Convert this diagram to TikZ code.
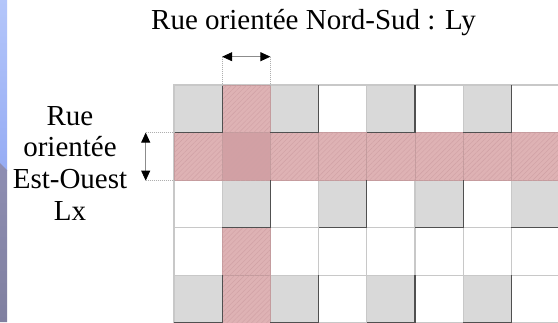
\documentclass[tikz,border=0pt]{standalone}
\usepackage{fontspec}
\setmainfont{Liberation Serif}
\usetikzlibrary{arrows.meta,patterns.meta}
\definecolor{cellgray}{RGB}{217,217,217}
\definecolor{gridline}{RGB}{200,200,200}
\definecolor{shadowline}{RGB}{80,80,80}
\definecolor{redcell}{RGB}{222,178,180}
\definecolor{redcross}{RGB}{210,160,164}
\definecolor{redhatch}{RGB}{208,160,164}
\definecolor{redborder}{RGB}{196,156,158}
\definecolor{stripA}{RGB}{180,198,250}
\definecolor{stripB}{RGB}{150,172,244}
\definecolor{stripC}{RGB}{142,142,178}
\definecolor{stripD}{RGB}{128,128,160}
\definecolor{dimline}{RGB}{140,140,140}
\definecolor{dimext}{RGB}{175,175,175}
\begin{document}
\begin{tikzpicture}[x=1pt,y=-1pt,
  lbl/.style={font=\fontsize{29}{32}\selectfont, inner sep=0pt},
  gridcell/.style={draw=gridline, line width=1.2pt},
  redbox/.style={fill=redcell, draw=redborder, line width=0.7pt},
  hatch/.style={pattern={Lines[angle=45,distance=3.5pt,line width=0.4pt]}, pattern color=redhatch},
  shadowedge/.style={draw=shadowline, line width=1.2pt},
  dimarrow/.style={draw=dimline, line width=0.8pt,
    {Triangle[length=10pt,width=9pt,color=black]}-{Triangle[length=10pt,width=9pt,color=black]}},
  dimextline/.style={draw=dimext, line width=0.6pt, dash pattern=on 1pt off 1pt}]
\useasboundingbox (0,0) rectangle (558,322);
\clip (0,0) rectangle (558,322);
\fill[white] (0,0) rectangle (558,322);
% left strip
\shade[top color=stripA, bottom color=stripB] (0,0) rectangle (7,170);
\shade[top color=stripC, bottom color=stripD] (0,163) -- (7,170) -- (7,322) -- (0,322) -- cycle;
\def\cw{48.2}\def\ch{47.6}\def\gx{174}\def\gy{85}
% gray cells
\foreach \r/\c in {0/0,0/2,0/4,0/6,2/1,2/3,2/5,2/7,4/0,4/2,4/4,4/6}
  \fill[cellgray] ({\gx+\c*\cw},{\gy+\r*\ch}) rectangle ++(\cw,\ch);
% light grid
\foreach \r in {0,...,4}
  \foreach \c in {0,...,7}
    \draw[gridcell] ({\gx+\c*\cw},{\gy+\r*\ch}) rectangle ++(\cw,\ch);
% red streets
\foreach \r/\c in {1/0,1/2,1/3,1/4,1/5,1/6,1/7,0/1,3/1,4/1}{
  \path[redbox] ({\gx+\c*\cw},{\gy+\r*\ch}) rectangle ++(\cw,\ch);
  \path[hatch] ({\gx+\c*\cw},{\gy+\r*\ch}) rectangle ++(\cw,\ch);
}
\path[redbox, fill=redcross] ({\gx+1*\cw},{\gy+1*\ch}) rectangle ++(\cw,\ch);
\path[hatch] ({\gx+1*\cw},{\gy+1*\ch}) rectangle ++(\cw,\ch);
% shadow edges of gray cells
\foreach \r/\c in {0/0,0/2,0/4,0/6,2/1,2/3,2/5,2/7,4/0,4/2,4/4,4/6}
  \draw[shadowedge] ({\gx+(\c+1)*\cw},{\gy+\r*\ch}) -- ({\gx+(\c+1)*\cw},{\gy+(\r+1)*\ch}) -- ({\gx+\c*\cw},{\gy+(\r+1)*\ch});
% dimension markers
\coordinate (ta) at (222.2,56.7);
\coordinate (tb) at (270.4,56.7);
\coordinate (ga) at (222.2,85);
\coordinate (gb) at (270.4,85);
\coordinate (la) at (145.7,132.6);
\coordinate (lb) at (145.7,180.6);
\coordinate (ma) at (174,132.6);
\coordinate (mb) at (174,180.6);
\draw[dimextline] (ta) -- (ga);
\draw[dimextline] (tb) -- (gb);
\draw[dimextline] (la) -- (ma);
\draw[dimextline] (lb) -- (mb);
\draw[dimarrow] (ta) -- (tb);
\draw[dimarrow] (la) -- (lb);
% texts
\node[lbl, anchor=base] (title) at (313.5,29) {Rue orientée Nord-Sud : Ly};
\node[lbl, anchor=base] (l1) at (70,125) {Rue};
\node[lbl, anchor=base] (l2) at (70,156.7) {orientée};
\node[lbl, anchor=base] (l3) at (70,188.3) {Est-Ouest};
\node[lbl, anchor=base] (l4) at (70,220) {Lx};
\end{tikzpicture}
\end{document}
